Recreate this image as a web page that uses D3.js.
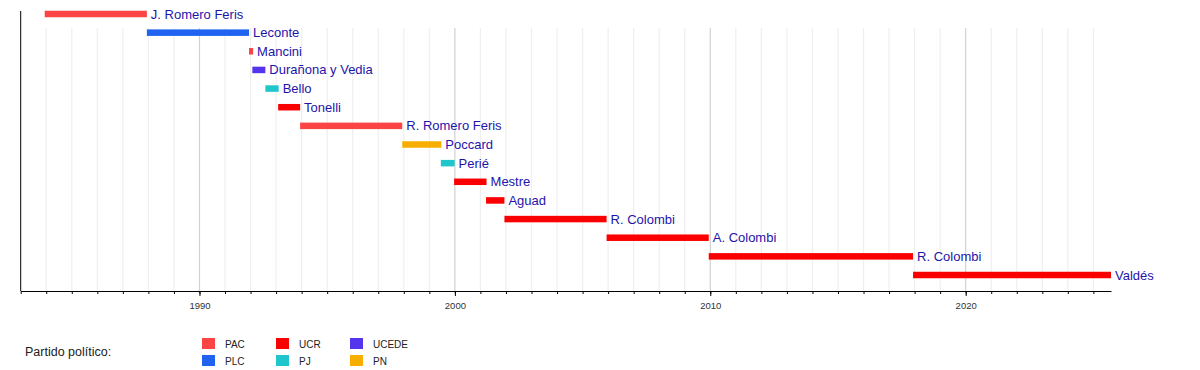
<!DOCTYPE html>
<html>
<head>
<meta charset="utf-8">
<script src="https://cdn.jsdelivr.net/npm/d3@7"></script>
<style>
  body { margin: 0; background: #fff; }
  svg { display: block; font-family: "Liberation Sans", Arial, sans-serif; }
</style>
</head>
<body>
<div id="chart"></div>
<script>
// Gobernadores de Corrientes, one row per mandate (decimal years)
const names = ["J. Romero Feris", "Leconte", "Mancini", "Durañona y Vedia", "Bello", "Tonelli",
  "R. Romero Feris", "Poccard", "Perié", "Mestre", "Aguad", "R. Colombi", "A. Colombi", "R. Colombi", "Valdés"];
const parties = ["PAC", "PLC", "PAC", "UCEDE", "PJ", "UCR", "PAC", "PN", "PJ", "UCR", "UCR", "UCR", "UCR", "UCR", "UCR"];
const starts = [1983.94, 1987.94, 1991.94, 1992.07, 1992.58, 1993.08, 1993.94, 1997.94, 1999.45, 1999.97, 2001.22, 2001.94, 2005.94, 2009.94, 2017.94];
const ends = [1987.94, 1991.94, 1992.1, 1992.58, 1993.1, 1993.94, 1997.94, 1999.47, 1999.99, 2001.24, 2001.94, 2005.94, 2009.94, 2017.94, 2025.69];

const partyNames = ["PAC", "PLC", "UCR", "PJ", "UCEDE", "PN"];
const partyColors = ["#fb4444", "#1f63f0", "#fb0000", "#1fc6cc", "#5534ee", "#f7ae00"];

const decadeTicks = [1990, 2000, 2010, 2020];
const yearStart = 1983, yearEnd = 2025.69;

const width = 1200, height = 370;
const svg = d3.select("#chart").append("svg").attr("width", width).attr("height", height);

//Scales
const x = d3.scaleLinear().domain([yearStart, yearEnd]).range([20.7, 1111]);
const y = d3.scalePoint().domain(d3.range(names.length)).range([14, 275]);
const color = d3.scaleOrdinal().domain(partyNames).range(partyColors);
const axisY = 291;
const barHeight = 6.5;

//Grid
const years = d3.range(1984, 2026);
svg.append("g").selectAll("line").data(years).enter().append("line")
  .attr("x1", d => x(d)).attr("x2", d => x(d))
  .attr("y1", 28).attr("y2", axisY)
  .attr("stroke", d => d % 10 === 0 ? "#d2d2d2" : "#efefef")
  .attr("stroke-width", 1.2);

//Axes
const minorAxis = d3.axisBottom(x).tickValues(d3.range(1983, 2026)).tickSize(3).tickSizeOuter(0).tickFormat("");
const majorAxis = d3.axisBottom(x).tickValues(decadeTicks).tickSize(5).tickSizeOuter(0).tickFormat(d3.format("d"));
svg.append("g").attr("transform", `translate(0,${axisY})`).call(minorAxis)
  .call(g => g.select(".domain").attr("stroke", "#000"));
const majorG = svg.append("g").attr("transform", `translate(0,${axisY})`).call(majorAxis);
majorG.select(".domain").remove();
majorG.selectAll("text").attr("font-size", "9.5px").attr("fill", "#333")
  .attr("font-family", "Liberation Sans, Arial, sans-serif").attr("dy", "1.1em");
svg.append("line").attr("x1", x(yearStart)).attr("x2", x(yearStart))
  .attr("y1", 11).attr("y2", axisY).attr("stroke", "#000");

//Bars
const rows = names.map((n, i) => ({ name: n, party: parties[i], start: starts[i], end: ends[i], i: i }));
svg.append("g").selectAll("rect").data(rows).enter().append("rect")
  .attr("x", d => x(d.start))
  .attr("width", d => x(d.end) - x(d.start))
  .attr("y", d => y(d.i) - barHeight / 2)
  .attr("height", barHeight)
  .attr("fill", d => color(d.party));

svg.append("g").selectAll("text").data(rows).enter().append("text")
  .attr("x", d => x(d.end) + 4)
  .attr("y", d => y(d.i))
  .attr("dy", "0.35em")
  .attr("font-size", "13px")
  .attr("fill", "#1e14aa")
  .text(d => d.name);

//Legend
svg.append("text").attr("x", 25).attr("y", 352).attr("dy", "0.35em")
  .attr("font-size", "12.5px").attr("fill", "#222").text("Partido político:");
const legend = svg.append("g").selectAll("g").data(partyNames).enter().append("g")
  .attr("transform", (d, i) => `translate(${202 + Math.floor(i / 2) * 74},${i % 2 === 0 ? 338 : 355})`);
legend.append("rect").attr("width", 13).attr("height", 11).attr("fill", d => color(d));
legend.append("text").attr("x", 23).attr("y", 6).attr("dy", "0.35em")
  .attr("font-size", "10px").attr("fill", "#222").text(d => d);
</script>
</body>
</html>
